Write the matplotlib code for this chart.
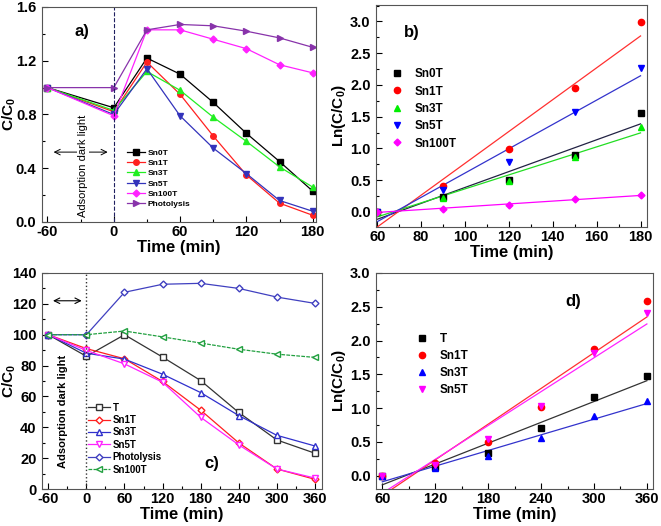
import numpy as np
import matplotlib
matplotlib.use('Agg')
from matplotlib import pyplot as plt
from matplotlib.ticker import MultipleLocator

plt.rcParams['font.family'] = ['Liberation Sans', 'DejaVu Sans']
plt.rcParams['font.weight'] = 'bold'
plt.rcParams['axes.unicode_minus'] = False
plt.rcParams['mathtext.fontset'] = 'custom'
plt.rcParams['mathtext.rm'] = 'Liberation Sans:bold'
plt.rcParams['mathtext.bf'] = 'Liberation Sans:bold'
plt.rcParams['mathtext.default'] = 'bf'

# ---- panel a: C/C0 vs time ----
time_a = [-60, 0, 30, 60, 90, 120, 150, 180]
a_sn0t = [1.0, 0.85, 1.22, 1.10, 0.89, 0.66, 0.45, 0.23]
a_sn1t = [1.0, 0.82, 1.19, 0.95, 0.64, 0.35, 0.14, 0.05]
a_sn3t = [1.0, 0.83, 1.12, 0.98, 0.78, 0.60, 0.41, 0.26]
a_sn5t = [1.0, 0.80, 1.14, 0.79, 0.55, 0.36, 0.16, 0.08]
a_sn100t = [1.0, 0.79, 1.43, 1.43, 1.36, 1.29, 1.17, 1.11]
a_photo = [1.0, 1.0, 1.43, 1.47, 1.46, 1.42, 1.37, 1.30]

# ---- panel b: ln(C/C0) kinetics ----
time_b = [60, 90, 120, 150, 180]
b_sn0t = [0.0, 0.23, 0.50, 0.89, 1.55]
b_sn1t = [0.0, 0.40, 0.99, 1.95, 2.99]
b_sn3t = [0.0, 0.22, 0.49, 0.87, 1.33]
b_sn5t = [0.0, 0.35, 0.78, 1.58, 2.26]
b_sn100t = [0.0, 0.05, 0.11, 0.20, 0.26]

# ---- panel c: C/C0 (%) vs time ----
time_c = [-60, 0, 60, 120, 180, 240, 300, 360]
c_t = [100, 86, 100, 85.5, 70.3, 49.6, 31.8, 23.2]
c_sn1t = [100, 91, 84.4, 69.7, 51.1, 29.9, 13.0, 6.3]
c_sn3t = [100, 88, 84.2, 74.4, 62.5, 47.6, 34.8, 27.9]
c_sn5t = [100, 89.8, 81.1, 69.2, 46.5, 28.6, 13.0, 7.1]
c_photo = [100, 100, 127.5, 132.7, 133.3, 130.0, 124.4, 120.3]
c_sn100t = [100, 100, 102.4, 98.6, 94.6, 90.6, 87.4, 85.3]

# ---- panel d: ln(C/C0) kinetics ----
time_d = [60, 120, 180, 240, 300, 360]
d_t = [0.0, 0.13, 0.34, 0.70, 1.16, 1.47]
d_sn1t = [0.0, 0.18, 0.49, 1.02, 1.88, 2.58]
d_sn3t = [-0.01, 0.11, 0.29, 0.55, 0.88, 1.10]
d_sn5t = [0.0, 0.15, 0.54, 1.03, 1.82, 2.41]

SPINE = '#555555'


def style_axes(ax, xmaj, xmin, ymaj, ymin, ylabel, ylab_x):
    ax.xaxis.set_major_locator(MultipleLocator(xmaj))
    ax.xaxis.set_minor_locator(MultipleLocator(xmin))
    ax.yaxis.set_major_locator(MultipleLocator(ymaj))
    ax.yaxis.set_minor_locator(MultipleLocator(ymin))
    ax.tick_params(which='both', direction='in', top=False, right=False,
                   labelsize=10.5, width=0.8, colors='black')
    ax.tick_params(axis='y', pad=4)
    ax.tick_params(axis='x', pad=2.5)
    ax.tick_params(which='major', length=4)
    ax.tick_params(which='minor', length=2)
    for sp in ax.spines.values():
        sp.set_color(SPINE)
        sp.set_linewidth(0.8)
    for lab in ax.get_xticklabels() + ax.get_yticklabels():
        lab.set_fontweight('bold')
    ax.set_xlabel('Time (min)', fontsize=12, fontweight='bold', labelpad=0.5)
    ax.set_ylabel(ylabel, fontsize=11, fontweight='bold')
    ax.yaxis.set_label_coords(ylab_x, 0.5)


def fit_line(ax, x, y, color):
    k, b = np.polyfit(x, y, 1)
    xs = np.array([x[0], x[-1]])
    ax.plot(xs, k * xs + b, color=color, lw=0.9)


fig = plt.figure(figsize=(6.61, 5.26), dpi=100)

# panel a
ax = fig.add_axes([0.0635, 0.578, 0.4145, 0.4087])
ax.plot(time_a, a_sn0t, '-s', color='#000000', ms=4, lw=0.9, label='Sn0T')
ax.plot(time_a, a_sn1t, '-o', color='#ff2020', ms=4, lw=0.9, label='Sn1T')
ax.plot(time_a, a_sn3t, '-^', color='#22ee22', ms=4, lw=0.9, label='Sn3T')
ax.plot(time_a, a_sn5t, '-v', color='#3333bb', ms=4, lw=0.9, label='Sn5T')
ax.plot(time_a, a_sn100t, '-D', color='#ff22ff', ms=3.5, lw=0.9, label='Sn100T')
ax.plot(time_a, a_photo, '->', color='#8833aa', ms=4, lw=0.9, label='Photolysis')
ax.axvline(0, color='#202060', ls='--', lw=0.8)
ax.annotate('', xy=(-57, 0.52), xytext=(-3, 0.52),
            arrowprops=dict(arrowstyle='<->', color='black', lw=0.7))
ax.text(-28, 0.42, 'Adsorption dark light', rotation=90, fontsize=8,
        fontweight='normal', ha='center', va='center',
        bbox=dict(facecolor='white', edgecolor='none', pad=1))
ax.set_xlim(-65, 183)
ax.set_ylim(0, 1.6)
style_axes(ax, 60, 30, 0.4, 0.2, 'C/C$_0$', -0.088)
ax.text(0.146, 0.884, 'a)', transform=ax.transAxes, fontsize=12,
        fontweight='bold', ha='center', va='center')
ax.legend(loc='upper left', bbox_to_anchor=(0.31, 0.34), frameon=False,
          prop={'size': 6, 'weight': 'bold'}, handlelength=2.2,
          handletextpad=0.3, labelspacing=0.3, borderpad=0, borderaxespad=0)

# panel b
ax = fig.add_axes([0.569, 0.5684, 0.41, 0.4221])
b_series = [(b_sn0t, 's', '#000000', '#222244', 'Sn0T'),
            (b_sn1t, 'o', '#ff0000', '#ff3030', 'Sn1T'),
            (b_sn3t, '^', '#00ee00', '#22dd22', 'Sn3T'),
            (b_sn5t, 'v', '#0000ff', '#3333cc', 'Sn5T'),
            (b_sn100t, 'D', '#ff00ff', '#ff00ff', 'Sn100T')]
for ys, mk, mc, lc, lab in b_series:
    fit_line(ax, time_b, ys, lc)
for ys, mk, mc, lc, lab in b_series:
    ax.plot(time_b, ys, mk, color=mc, ms=4.5 if mk != 'D' else 3.5,
            ls='none', label=lab)
ax.set_xlim(59.5, 183)
ax.set_ylim(-0.24, 3.26)
style_axes(ax, 20, 10, 0.5, 0.25, 'Ln(C/C$_0$)', -0.103)
ax.text(0.133, 0.874, 'b)', transform=ax.transAxes, fontsize=12,
        fontweight='bold', ha='center', va='center')
ax.legend(loc='upper left', bbox_to_anchor=(0.05, 0.715), frameon=False,
          prop={'size': 8.5, 'weight': 'bold'}, handlelength=1.2,
          handletextpad=0.9, labelspacing=0.45, borderpad=0, borderaxespad=0)

# panel c
ax = fig.add_axes([0.0635, 0.0703, 0.4235, 0.4107])
ax.plot(time_c, c_t, '-s', color='#333333', mfc='white', ms=4, lw=0.9, label='T')
ax.plot(time_c, c_sn1t, '-D', color='#ff2020', mfc='white', ms=3.5, lw=0.9, label='Sn1T')
ax.plot(time_c, c_sn3t, '-^', color='#3030cc', mfc='white', ms=4.5, lw=0.9, label='Sn3T')
ax.plot(time_c, c_sn5t, '-v', color='#ff22ff', mfc='white', ms=4.5, lw=0.9, label='Sn5T')
ax.plot(time_c, c_photo, '-D', color='#4040c0', mfc='white', ms=3.5, lw=0.9, label='Photolysis')
ax.plot(time_c, c_sn100t, '-<', color='#22a040', mfc='white', ms=4, lw=0.9,
        ls=(0, (3, 1)), label='Sn100T')
ax.axvline(0, color='#333333', ls=':', lw=1.0)
ax.annotate('', xy=(-57, 122), xytext=(-3, 122),
            arrowprops=dict(arrowstyle='<->', color='black', lw=0.8))
ax.text(-37, 50, 'Adsorption dark light', rotation=90, fontsize=8,
        fontweight='bold', ha='center', va='center')
ax.set_xlim(-70, 371)
ax.set_ylim(0, 140)
style_axes(ax, 60, 30, 20, 10, 'C/C$_0$', -0.086)
ax.text(0.607, 0.12, 'c)', transform=ax.transAxes, fontsize=12,
        fontweight='bold', ha='center', va='center')
ax.legend(loc='upper left', bbox_to_anchor=(0.165, 0.40), frameon=False,
          prop={'size': 7, 'weight': 'bold'}, handlelength=2.2,
          handletextpad=0.3, labelspacing=0.25, borderpad=0, borderaxespad=0)

# panel d
ax = fig.add_axes([0.569, 0.0703, 0.419, 0.4107])
d_series = [(d_t, 's', '#000000', '#333333', 'T'),
            (d_sn1t, 'o', '#ff0000', '#ff3030', 'Sn1T'),
            (d_sn3t, '^', '#0000ff', '#3333cc', 'Sn3T'),
            (d_sn5t, 'v', '#ff00ff', '#ff22ff', 'Sn5T')]
for ys, mk, mc, lc, lab in d_series:
    fit_line(ax, time_d, ys, lc)
for ys, mk, mc, lc, lab in d_series:
    ax.plot(time_d, ys, mk, color=mc, ms=4.5, ls='none', label=lab)
ax.set_xlim(53, 367)
ax.set_ylim(-0.2, 3.0)
style_axes(ax, 60, 30, 0.5, 0.25, 'Ln(C/C$_0$)', -0.101)
ax.text(0.711, 0.866, 'd)', transform=ax.transAxes, fontsize=12,
        fontweight='bold', ha='center', va='center')
ax.legend(loc='upper left', bbox_to_anchor=(0.14, 0.72), frameon=False,
          prop={'size': 8.5, 'weight': 'bold'}, handlelength=1.2,
          handletextpad=0.9, labelspacing=0.4, borderpad=0, borderaxespad=0)

fig.savefig('out.png', dpi=100)
plt.close('all')
